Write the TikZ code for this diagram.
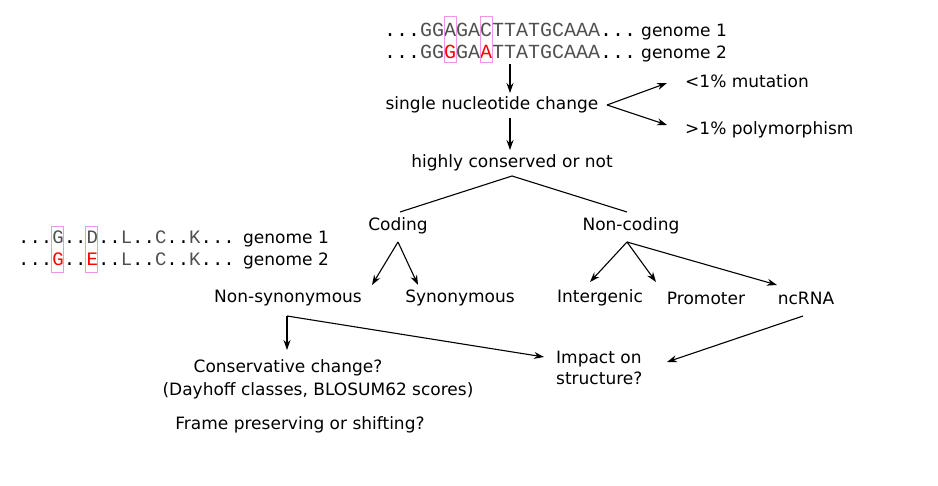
\documentclass[tikz,border=0pt]{standalone}
\usepackage{fontspec}
\setmainfont{DejaVu Sans}
\newfontfamily\seqfont{Liberation Mono}
\usetikzlibrary{arrows.meta}
\definecolor{pinkbox}{RGB}{240,150,230}
\definecolor{seqgray}{RGB}{80,80,80}
\tikzset{
 lbl/.style={font=\fontsize{17}{21}\selectfont, inner sep=0pt},
 seqA/.style={font=\seqfont\fontsize{20}{24}\selectfont, inner sep=0pt, anchor=base west},
 seqB/.style={font=\seqfont\fontsize{19}{24}\selectfont, inner sep=0pt, anchor=base west},
 arr/.style={-{Stealth[length=10pt,width=7pt]}, line width=1.1pt},
 ln/.style={line width=1.1pt},
 mbox/.style={draw=pinkbox, line width=0.8pt}
}
\newcommand{\gr}[1]{\textcolor{seqgray}{#1}}
\newcommand{\rd}[1]{\textcolor{red}{#1}}
\begin{document}
\begin{tikzpicture}[x=1pt,y=-1pt]
\useasboundingbox (0,0) rectangle (938,486);
% genome sequences
\node[seqA] (s1) at (384,37) {...\gr{GGAGACTTATGCAAA}...};
\node[seqA] (s2) at (384,59) {...\gr{GG}\rd{G}\gr{GA}\rd{A}\gr{TTATGCAAA}...};
\node[lbl, anchor=base west] (g1) at (641,37) {genome 1};
\node[lbl, anchor=base west] (g2) at (641,59) {genome 2};
\draw[mbox] (444,16) rectangle (456,62);
\draw[mbox] (480,16) rectangle (492,62);
% protein sequences
\node[seqB] (p1) at (18,244) {...\gr{G}..\gr{D}..\gr{L}..\gr{C}..\gr{K}...};
\node[seqB] (p2) at (18,266) {...\rd{G}..\rd{E}..\gr{L}..\gr{C}..\gr{K}...};
\node[lbl, anchor=base west] (pg1) at (243,244) {genome 1};
\node[lbl, anchor=base west] (pg2) at (243,266) {genome 2};
\draw[mbox] (51,226) rectangle (63,272);
\draw[mbox] (85,226) rectangle (97,272);
% nodes
\node[lbl] (snc) at (492,105) {single nucleotide change};
\node[lbl, anchor=west] (mut) at (685,81) {<1\% mutation};
\node[lbl, anchor=west] (poly) at (685,130) {>1\% polymorphism};
\node[lbl] (hc) at (512,163) {highly conserved or not};
\node[lbl] (cod) at (398,226) {Coding};
\node[lbl] (ncod) at (631,226) {Non-coding};
\node[lbl] (nsyn) at (288,298) {Non-synonymous};
\node[lbl] (syn) at (460,298) {Synonymous};
\node[lbl] (ig) at (600,298) {Intergenic};
\node[lbl] (prom) at (706,298) {Promoter};
\node[lbl] (nc) at (806,298) {ncRNA};
\node[lbl, align=left, anchor=west] (imp) at (556,368) {Impact on\\structure?};
\node[lbl] (cons) at (288,368) {Conservative change?};
\node[lbl] (day) at (318,391) {(Dayhoff classes, BLOSUM62 scores)};
\node[lbl] (frame) at (300,425) {Frame preserving or shifting?};
% connector points
\coordinate (a0) at (510,64);
\coordinate (a1) at (510,93);
\coordinate (b0) at (607,105);
\coordinate (b1) at (667,83);
\coordinate (b2) at (667,125);
\coordinate (c0) at (510,118);
\coordinate (c1) at (510,150);
\coordinate (d0) at (512,176);
\coordinate (d1) at (400,212);
\coordinate (d2) at (627,212);
\coordinate (e0) at (398,242);
\coordinate (e1) at (372,285);
\coordinate (e2) at (418,285);
\coordinate (f0) at (627,242);
\coordinate (f1) at (590,282);
\coordinate (f2) at (656,282);
\coordinate (f3) at (777,285);
\coordinate (g0) at (287,316);
\coordinate (g1p) at (287,350);
\coordinate (g2p) at (544,357);
\coordinate (h0) at (803,316);
\coordinate (h1) at (667,362);
% connectors
\draw[arr] (a0) -- (a1);
\draw[arr] (b0) -- (b1);
\draw[arr] (b0) -- (b2);
\draw[arr] (c0) -- (c1);
\draw[ln] (d0) -- (d1);
\draw[ln] (d0) -- (d2);
\draw[arr] (e0) -- (e1);
\draw[arr] (e0) -- (e2);
\draw[arr] (f0) -- (f1);
\draw[arr] (f0) -- (f2);
\draw[arr] (f0) -- (f3);
\draw[arr] (g0) -- (g1p);
\draw[arr] (g0) -- (g2p);
\draw[arr] (h0) -- (h1);
\end{tikzpicture}
\end{document}
